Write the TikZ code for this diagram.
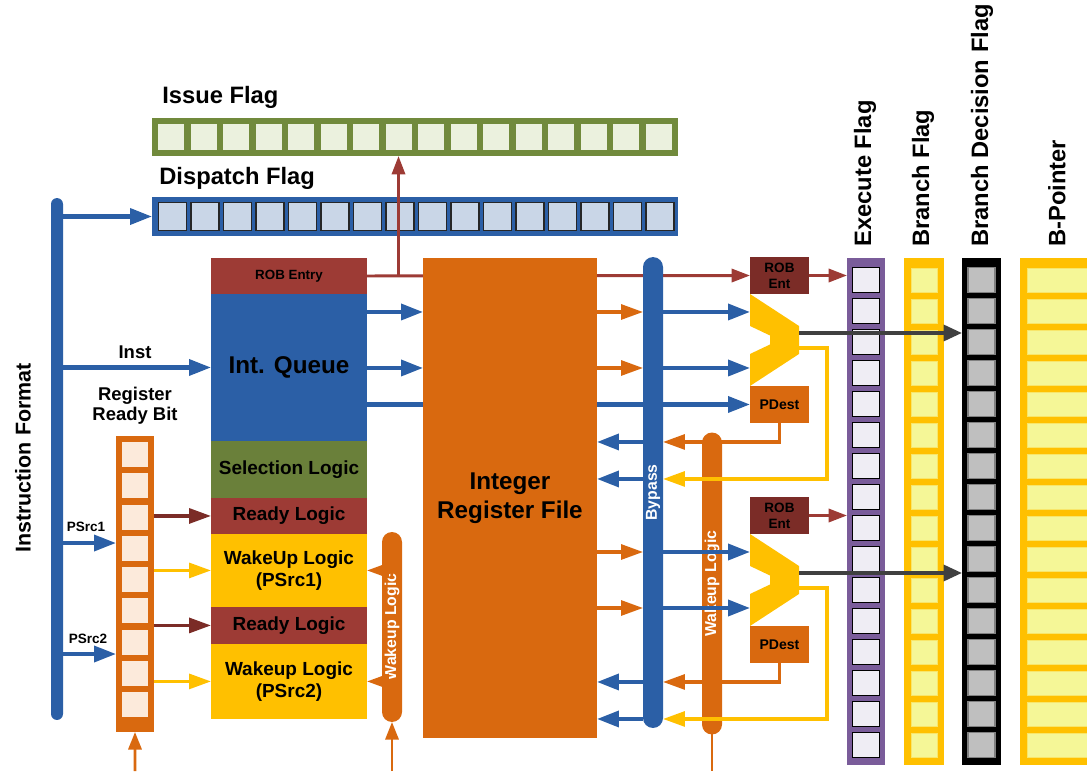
\documentclass[tikz,border=0pt]{standalone}
\usepackage{fontspec}
\setmainfont{Liberation Sans}
\usetikzlibrary{positioning,arrows.meta,calc}
\definecolor{cblue}{HTML}{2B5FA6}
\definecolor{corange}{HTML}{D9690F}
\definecolor{cyel}{HTML}{FFC000}
\definecolor{cred}{HTML}{9D3B35}
\definecolor{cdred}{HTML}{7B2C27}
\definecolor{colive}{HTML}{6A803A}
\definecolor{cgreen}{HTML}{718A3C}
\definecolor{cgcell}{HTML}{EBF1DE}
\definecolor{cbcell}{HTML}{C9D6E7}
\definecolor{cpurple}{HTML}{7A5C9A}
\definecolor{cpcell}{HTML}{EFEDF4}
\definecolor{cpale}{HTML}{F5F797}
\definecolor{cgray}{HTML}{BFBFBF}
\definecolor{cdark}{HTML}{404040}
\definecolor{cocell}{HTML}{FCEADB}
\tikzset{
  strip/.style={inner sep=0pt, outer sep=0pt},
  blk/.style={strip, align=center, font=\fontsize{10.8}{12.5}\selectfont\bfseries},
  ttl/.style={inner sep=0pt, font=\fontsize{13.5}{16}\selectfont\bfseries},
  lbl/.style={inner sep=0pt, align=center, font=\fontsize{10.5}{11.5}\selectfont\bfseries},
  smalllbl/.style={inner sep=0pt, align=center, font=\fontsize{7.7}{9}\selectfont\bfseries},
  pipe/.style={strip, rotate=90, minimum height=.4cm, rounded corners=.2cm, text=white, font=\fontsize{9}{10}\selectfont\bfseries},
  icell/.style={strip, fill=cgcell, minimum width=.52cm, minimum height=.54cm},
  dcell/.style={strip, fill=cbcell, draw=black!85, line width=.6pt, minimum width=.56cm, minimum height=.56cm},
  ocell/.style={strip, fill=cocell, minimum width=.54cm, minimum height=.5cm},
  ecell/.style={strip, fill=cpcell, draw=black, line width=.6pt, minimum width=.54cm, minimum height=.5cm},
  ycell/.style={strip, fill=cpale, draw=cpale!70!cyel, line width=.4pt, minimum width=.52cm, minimum height=.48cm},
  gcell/.style={strip, fill=cgray, draw=black!50, line width=.6pt, minimum width=.54cm, minimum height=.5cm},
  barr/.style={draw=cblue, line width=2.3pt, -{Triangle[length=12.5pt,width=9pt]}},
  oarr/.style={draw=corange, line width=1.8pt, -{Triangle[length=12.5pt,width=8.5pt]}},
  yarr/.style={draw=cyel, line width=1.8pt, -{Triangle[length=12.5pt,width=8.5pt]}},
  rarr/.style={draw=cred, line width=1.7pt, -{Triangle[length=10.5pt,width=7.5pt]}},
  drarr/.style={draw=cdred, line width=1.9pt, -{Triangle[length=12.5pt,width=8.5pt]}},
  garr/.style={draw=cdark, line width=2.2pt, -{Triangle[length=10.5pt,width=9pt]}},
  inarr/.style={draw=corange, line width=1.5pt, -{Triangle[length=10pt,width=7.5pt]}},
}
\begin{document}
\begin{tikzpicture}[x=0.02cm, y=-0.02cm]
\useasboundingbox (0,0) rectangle (1087,771);
% flags on top
\node[ttl, anchor=west] (issuet) at (162,97) {Issue Flag};
\node[strip, fill=cgreen, minimum width=10.52cm, minimum height=.76cm, anchor=north west] (issue) at (152,118) {};
\foreach \i in {0,...,15}
  \node[icell] (ic\i) at ($(issue.west)+(19+32.5*\i,0)$) {};
\node[ttl, anchor=west] (dispt) at (159,178) {Dispatch Flag};
\node[strip, fill=cblue, minimum width=10.52cm, minimum height=.78cm, anchor=north west] (disp) at (152,197) {};
\foreach \i in {0,...,15}
  \node[dcell] (dc\i) at ($(disp.west)+(20.5+32.5*\i,0)$) {};

% instruction bus and ready bits
\node[ttl, font=\fontsize{12.2}{14}\selectfont\bfseries, rotate=90] (ift) at (23,458) {Instruction Format};
\node[strip, fill=cblue, minimum width=.24cm, minimum height=10.44cm, rounded corners=.12cm] (ifbus) at (57,459) {};
\node[lbl] (instl) at (135,352) {Inst};
\node[lbl] (rrt) at (135,406) {Register\\Ready Bit};
\node[strip, fill=corange, minimum width=.76cm, minimum height=5.92cm, anchor=north west] (rr) at (116,436) {};
\foreach \i in {0,...,8}
  \node[ocell] (rc\i) at ($(rr.north)+(0,18.5+31.25*\i)$) {};
\node[smalllbl] (ps1l) at (86,527) {PSrc1};
\node[smalllbl] (ps2l) at (88,639) {PSrc2};

% queue stack
\node[blk, fill=cred, minimum width=3.12cm, minimum height=.72cm, anchor=north west, font=\fontsize{7.6}{9}\selectfont\bfseries] (robq) at (211,258) {ROB Entry};
\node[blk, fill=cblue, minimum width=3.12cm, minimum height=2.94cm, below=0cm of robq, font=\fontsize{13.8}{16}\selectfont\bfseries] (iq) {Int. Queue};
\node[blk, fill=colive, minimum width=3.12cm, minimum height=1.14cm, below=0cm of iq] (sel) {Selection Logic};
\node[blk, fill=cred, minimum width=3.12cm, minimum height=.72cm, below=0cm of sel] (rdy1) {Ready Logic};
\node[blk, fill=cyel, minimum width=3.12cm, minimum height=1.46cm, below=0cm of rdy1] (wk1) {WakeUp Logic\\(PSrc1)};
\node[blk, fill=cred, minimum width=3.12cm, minimum height=.74cm, below=0cm of wk1] (rdy2) {Ready Logic};
\node[blk, fill=cyel, minimum width=3.12cm, minimum height=1.5cm, below=0cm of rdy2] (wk2) {Wakeup Logic\\(PSrc2)};

% execution units
\node[blk, fill=cdred, minimum width=1.18cm, minimum height=.74cm, anchor=north west, font=\fontsize{7.7}{9}\selectfont\bfseries] (rob1) at (750,257) {ROB\\Ent};
\node[strip, minimum width=.98cm, minimum height=1.84cm, below=0cm of rob1.south west, anchor=north west] (alu1) {};
\node[blk, fill=corange, minimum width=1.18cm, minimum height=.74cm, below=0cm of alu1.south west, anchor=north west, font=\fontsize{8}{9}\selectfont\bfseries] (pd1) {PDest};
\node[blk, fill=cdred, minimum width=1.18cm, minimum height=.74cm, anchor=north west, font=\fontsize{7.7}{9}\selectfont\bfseries] (rob2) at (750,497) {ROB\\Ent};
\node[strip, minimum width=.98cm, minimum height=1.84cm, below=0cm of rob2.south west, anchor=north west] (alu2) {};
\node[blk, fill=corange, minimum width=1.18cm, minimum height=.74cm, below=0cm of alu2.south west, anchor=north west, font=\fontsize{8}{9}\selectfont\bfseries] (pd2) {PDest};
\foreach \a in {alu1,alu2}
  \fill[cyel] (\a.north west) -- ($(\a.east)+(0,-14)$) -- ($(\a.east)+(0,14)$) -- (\a.south west)
    -- ($(\a.west)+(0,14)$) -- ($(\a.west)+(20,4.5)$) -- ($(\a.west)+(20,-4.5)$) -- ($(\a.west)+(0,-14)$) -- cycle;

% flag columns
\node[ttl, rotate=90, anchor=west] (exet) at (865,247) {Execute Flag};
\node[strip, fill=cpurple, minimum width=.76cm, minimum height=10.14cm, anchor=north west] (exe) at (847,258) {};
\node[ttl, rotate=90, anchor=west] (brt) at (923,247) {Branch Flag};
\node[strip, fill=cyel, minimum width=.8cm, minimum height=10.14cm, anchor=north west] (br) at (904,258) {};
\node[ttl, rotate=90, anchor=west] (bdt) at (982,247) {Branch Decision Flag};
\node[strip, fill=black, minimum width=.78cm, minimum height=10.14cm, anchor=north west] (bd) at (962,258) {};
\node[ttl, rotate=90, anchor=west] (bpt) at (1057,247) {B-Pointer};
\node[strip, fill=cyel, minimum width=1.6cm, minimum height=10.14cm, anchor=north west] (bp) at (1020,258) {};
\foreach \i in {0,...,15} {
  \node[ecell] (ec\i) at ($(exe.north)+(0,22+31*\i)$) {};
  \node[ycell] (yc\i) at ($(br.north)+(0,22+31*\i)$) {};
  \node[gcell] (gc\i) at ($(bd.north)+(0,22+31*\i)$) {};
  \node[ycell, anchor=west, minimum width=1.4cm] (pc\i) at ($(bp.north west)+(7,22+31*\i)$) {};
}

% lines running under the register file
\draw[rarr] (robq.east) -- (rob1.west);
\draw[rarr] (robq.east -| ic7) -- (ic7 |- issue.south);
\draw[barr] (iq.east |- pd1.west) -- (pd1.west);

\node[blk, fill=corange, minimum width=3.48cm, minimum height=9.6cm, anchor=north west, font=\fontsize{13.8}{16.5}\selectfont\bfseries] (rf) at (423,258) {Integer\\Register File};
\node[pipe, fill=cblue, minimum width=9.42cm] (byp) at (653,492.5) {Bypass};
\node[pipe, fill=corange, minimum width=3.8cm] (wkl) at (392,627) {Wakeup Logic};
\node[pipe, fill=corange, minimum width=6.04cm] (wkr) at (712,583.5) {Wakeup Logic};

% operand paths
\coordinate (a1u) at ($(alu1.west)+(0,-28)$);
\coordinate (a1d) at ($(alu1.west)+(0,28)$);
\coordinate (a2u) at ($(alu2.west)+(0,-28)$);
\coordinate (a2d) at ($(alu2.west)+(0,28)$);
\draw[barr] (iq.east |- a1u) -- (rf.west |- a1u);
\draw[barr] (iq.east |- a1d) -- (rf.west |- a1d);
\foreach \c in {a1u,a1d,a2u,a2d} {
  \draw[oarr] (rf.east |- \c) -- (byp.north |- \c);
  \draw[barr] (byp.south |- \c) -- (\c);
}
\foreach \n in {1,2} {
  \coordinate (pb\n) at ($(pd\n.south)+(0,19)$);
  \coordinate (yb\n) at ($(pd\n.south)+(47.5,56)$);
  \coordinate (go\n) at ($(alu\n.east)+(0,-7)$);
  \draw[oarr] (pd\n.south) -- (pb\n) -- (byp.south |- pb\n);
  \draw[barr] (byp.north |- pb\n) -- (rf.east |- pb\n);
  \draw[yarr] ($(alu\n.east)+(0,8)$) -| (yb\n) -- (byp.south |- yb\n);
  \draw[barr] (byp.north |- yb\n) -- (rf.east |- yb\n);
  \draw[garr] (go\n) -- (bd.west |- go\n);
  \draw[rarr] (rob\n.east) -- (exe.west |- rob\n.east);
}

% instruction bus and ready bits
\coordinate (ps1) at (57,543);
\coordinate (ps2) at (57,654);
\draw[barr] (ifbus.east |- disp.west) -- (disp.west);
\draw[barr] (ifbus.east |- iq.west) -- (iq.west);
\draw[barr] (ifbus.east |- ps1) -- (rr.west |- ps1);
\draw[barr] (ifbus.east |- ps2) -- (rr.west |- ps2);
\draw[drarr] (rr.east |- rdy1.west) -- (rdy1.west);
\draw[yarr] (rr.east |- wk1.west) -- (wk1.west);
\draw[drarr] (rr.east |- rdy2.west) -- (rdy2.west);
\draw[yarr] (rr.east |- wk2.west) -- (wk2.west);
\draw[oarr] (wkl.north |- wk1.east) -- (wk1.east);
\draw[oarr] (wkl.north |- wk2.east) -- (wk2.east);
\coordinate (rrin) at (135,771);
\coordinate (wkin) at (392,771);
\draw[inarr] (rrin) -- (rr.south);
\draw[inarr] (wkin) -- (wkl.west);
\draw[draw=corange, line width=1.5pt] (wkr.west) -- (wkr.west |- wkin);
\end{tikzpicture}
\end{document}
